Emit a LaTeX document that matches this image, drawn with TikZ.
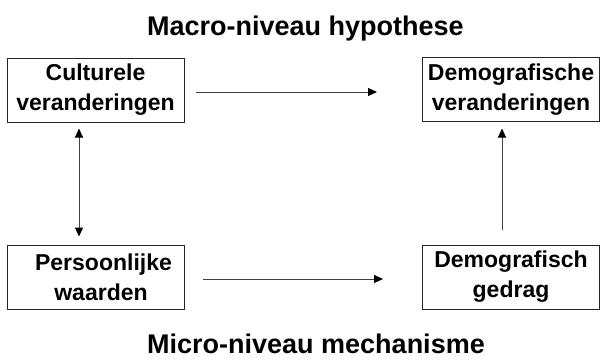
\documentclass[tikz,border=0pt]{standalone}
\usepackage{fontspec}
\setmainfont{Liberation Sans}
\usetikzlibrary{arrows.meta}
\begin{document}
\begin{tikzpicture}[x=1pt,y=-1pt,
  box/.style={draw=black!85, line width=1pt, minimum width=177pt, minimum height=64pt,
    inner sep=0pt, align=center, font=\fontsize{23}{30}\selectfont\bfseries},
  title/.style={anchor=base west, inner sep=0pt, font=\fontsize{27}{32}\selectfont\bfseries},
  conn/.style={draw=black!75, line width=1pt, -{Triangle[length=9pt,width=8pt,color=black]}},
  dconn/.style={draw=black!75, line width=1pt, {Triangle[length=9pt,width=8pt,color=black]}-{Triangle[length=9pt,width=8pt,color=black]}}]
\useasboundingbox (0,0) rectangle (600,360);
\node[title] (t1) at (147,35) {Macro-niveau hypothese};
\node[title] (t2) at (147,353) {Micro-niveau mechanisme};
\node[box] (cul) at (95.5,90) {Culturele\\veranderingen};
\node[box] (dem) at (511,89.5) {Demografische\\veranderingen};
\node[box] (per) at (95.5,277) {\hspace*{16pt}Persoonlijke\\\hspace*{11pt}waarden};
\node[box] (dg) at (511,277) {Demografisch\\gedrag};
\coordinate (a1s) at (196,92);
\coordinate (a1e) at (377,92);
\draw[conn] (a1s) -- (a1e);
\coordinate (a2s) at (203,279);
\coordinate (a2e) at (383,279);
\draw[conn] (a2s) -- (a2e);
\draw[dconn] ([yshift=-6pt]cul.south -| 79,0) -- ([yshift=8pt]per.north -| 79,0);
\draw[conn] ([yshift=15pt]dg.north -| 502,0) -- ([yshift=-6.5pt]dem.south -| 502,0);
\end{tikzpicture}
\end{document}
